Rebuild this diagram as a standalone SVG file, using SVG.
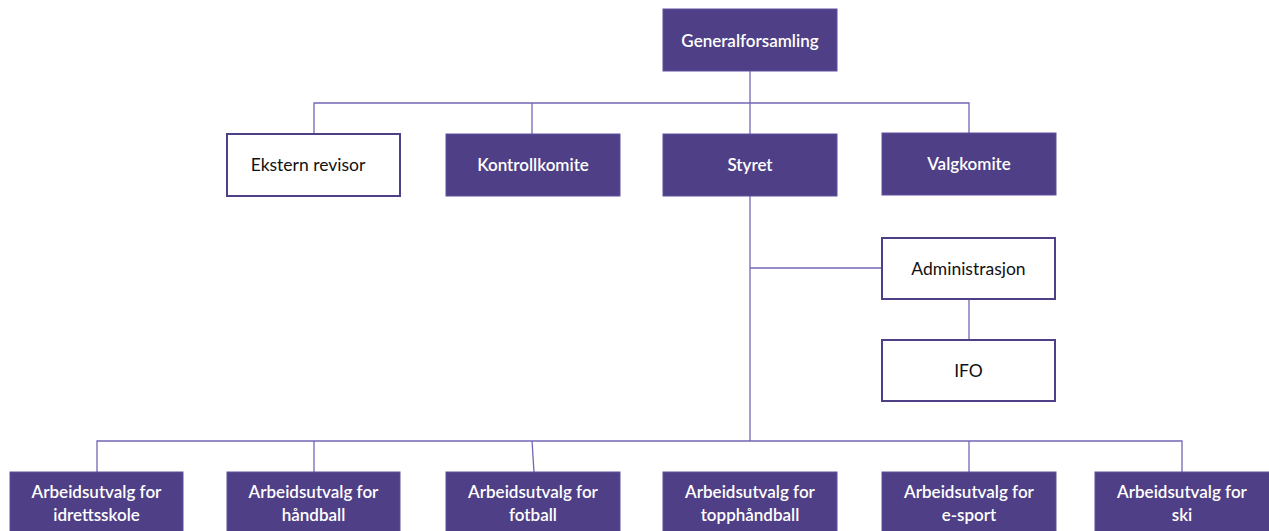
<svg xmlns="http://www.w3.org/2000/svg" width="1269" height="531" viewBox="0 0 1269 531">
<style>
.dark{fill:#4F3F86;stroke:#5E50A0;stroke-width:1}
.light{fill:#FFFFFF;stroke:#4F3F86;stroke-width:2}
.wt{fill:#FFFFFF;font-family:Lato,"Liberation Sans",sans-serif;font-size:17px;font-weight:600;text-anchor:middle}
.bt{fill:#111111;font-family:Lato,"Liberation Sans",sans-serif;font-size:17.5px;text-anchor:middle}
.conn{fill:none;stroke:#7466B6;stroke-width:1.3}
</style>
<rect width="1269" height="531" fill="#FFFFFF"/>
<g id="connectors" class="conn">
<path d="M750 71 V441"/>
<path d="M314 134 V103 H969 V133"/>
<path d="M532 103 V134"/>
<path d="M750 268 H882"/>
<path d="M969 299 V340"/>
<path d="M97 472 V441 H1182 V472"/>
<path d="M314 441 V472"/>
<path d="M532 441 L534 472"/>
<path d="M969 441 V472"/>
</g>
<g id="generalforsamling"><rect class="dark" x="663" y="9" width="174" height="62"/><text class="wt" x="750" y="47">Generalforsamling</text></g>
<g id="ekstern-revisor"><rect class="light" x="227" y="134" width="173" height="62"/><text class="bt" x="308" y="171">Ekstern revisor</text></g>
<g id="kontrollkomite"><rect class="dark" x="446" y="134" width="174" height="62"/><text class="wt" x="533" y="171">Kontrollkomite</text></g>
<g id="styret"><rect class="dark" x="663" y="134" width="174" height="62"/><text class="wt" x="750" y="171">Styret</text></g>
<g id="valgkomite"><rect class="dark" x="882" y="133" width="174" height="62"/><text class="wt" x="969" y="170">Valgkomite</text></g>
<g id="administrasjon"><rect class="light" x="882" y="238" width="173" height="61"/><text class="bt" x="968.5" y="275">Administrasjon</text></g>
<g id="ifo"><rect class="light" x="882" y="340" width="173" height="61"/><text class="bt" x="968.5" y="377">IFO</text></g>
<g id="au-idrettsskole"><rect class="dark" x="10" y="472" width="173" height="70"/><text class="wt" x="96.5" y="498">Arbeidsutvalg for</text><text class="wt" x="96.5" y="521">idrettsskole</text></g>
<g id="au-handball"><rect class="dark" x="227" y="472" width="173" height="70"/><text class="wt" x="313.5" y="498">Arbeidsutvalg for</text><text class="wt" x="313.5" y="521">håndball</text></g>
<g id="au-fotball"><rect class="dark" x="446" y="472" width="174" height="70"/><text class="wt" x="533" y="498">Arbeidsutvalg for</text><text class="wt" x="533" y="521">fotball</text></g>
<g id="au-topphandball"><rect class="dark" x="663" y="472" width="174" height="70"/><text class="wt" x="750" y="498">Arbeidsutvalg for</text><text class="wt" x="750" y="521">topphåndball</text></g>
<g id="au-esport"><rect class="dark" x="882" y="472" width="174" height="70"/><text class="wt" x="969" y="498">Arbeidsutvalg for</text><text class="wt" x="969" y="521">e-sport</text></g>
<g id="au-ski"><rect class="dark" x="1095" y="472" width="180" height="70"/><text class="wt" x="1182" y="498">Arbeidsutvalg for</text><text class="wt" x="1182" y="521">ski</text></g>
</svg>
